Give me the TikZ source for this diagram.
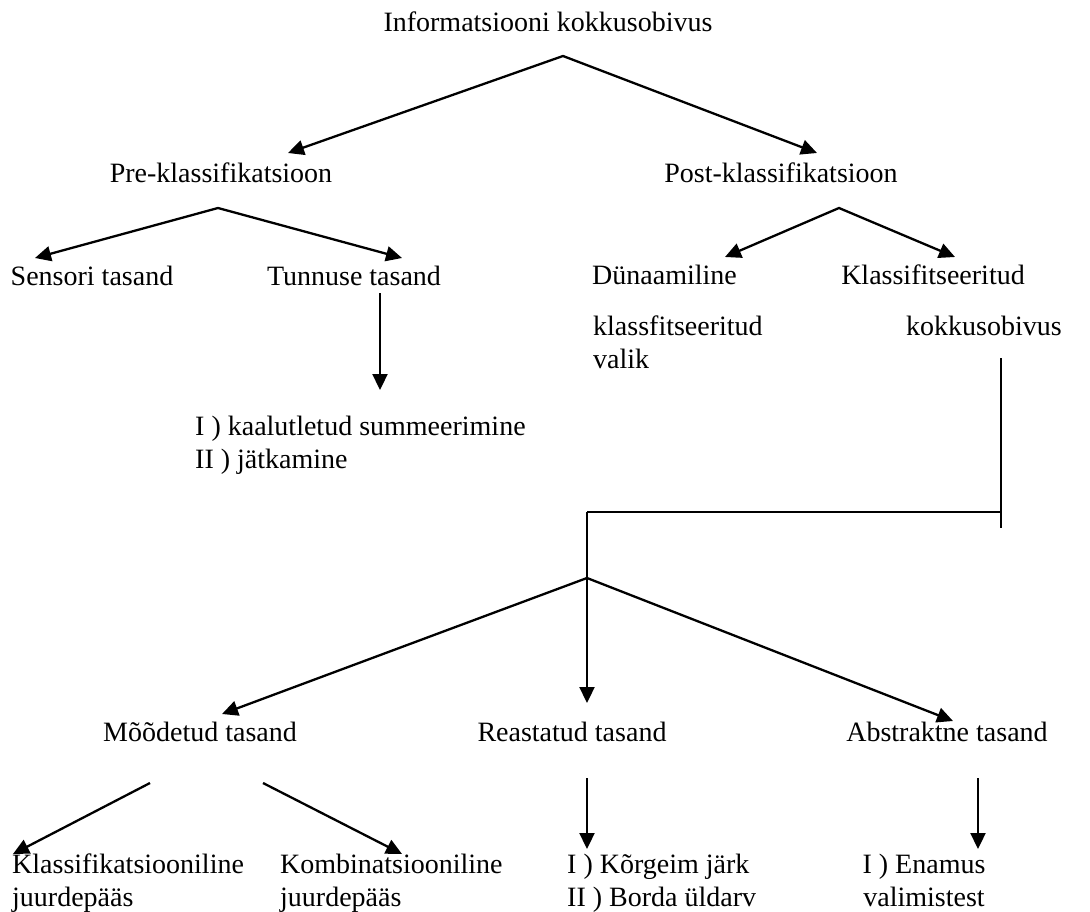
\documentclass[tikz,border=0pt]{standalone}
\usepackage{fontspec}
\setmainfont{Liberation Serif}
\usetikzlibrary{arrows.meta}

\tikzset{
  lbl/.style={inner sep=0pt, font=\fontsize{28}{33}\selectfont},
  arr/.style={-{Triangle[length=16pt,width=15pt]}, line width=2.3pt},
  twoarr/.style={{Triangle[length=16pt,width=15pt]}-{Triangle[length=16pt,width=15pt]}, line width=2.3pt},
  joinline/.style={line width=1.7pt}
}

\begin{document}
\begin{tikzpicture}[x=1pt, y=-1pt]
\useasboundingbox (0,0) rectangle (1090,912);

% labels
\node[lbl, anchor=base] (info) at (548,32) {Informatsiooni kokkusobivus};
\node[lbl, anchor=base] (pre) at (221,183) {Pre-klassifikatsioon};
\node[lbl, anchor=base] (post) at (781,183) {Post-klassifikatsioon};
\node[lbl, anchor=base] (sensori) at (92,285) {Sensori tasand};
\node[lbl, anchor=base] (tunnuse) at (354,285) {Tunnuse tasand};
\node[lbl, anchor=north west, align=left] (summa) at (195,416) {I ) kaalutletud summeerimine\\II ) jätkamine};
\node[lbl, anchor=base west] (dyn) at (592,284) {Dünaamiline};
\node[lbl, anchor=north west, align=left] (dynkl) at (593,316) {klassfitseeritud\\valik};
\node[lbl, anchor=base] (klass) at (933,284) {Klassifitseeritud};
\node[lbl, anchor=base] (kokku) at (984,335) {kokkusobivus};
\node[lbl, anchor=base] (mood) at (200,741) {Mõõdetud tasand};
\node[lbl, anchor=base] (reast) at (572,741) {Reastatud tasand};
\node[lbl, anchor=base] (abstr) at (947,741) {Abstraktne tasand};
\node[lbl, anchor=north west, align=left] (klj) at (12,854) {Klassifikatsiooniline\\juurdepääs};
\node[lbl, anchor=north west, align=left] (kombj) at (280,854) {Kombinatsiooniline\\juurdepääs};
\node[lbl, anchor=north west, align=left] (jark) at (567,854) {I ) Kõrgeim järk\\II ) Borda üldarv};
\node[lbl, anchor=north, align=center] (enamus) at (924,854) {I ) Enamus\\valimistest};

% branch points and arrow ends
\coordinate (info-out) at (563,56);
\coordinate (pre-in) at (288,153);
\coordinate (post-in) at (817,153);
\coordinate (pre-out) at (218,208);
\coordinate (sensori-in) at (35,258);
\coordinate (tunnuse-in) at (402,258);
\coordinate (tunnuse-out) at (380,293);
\coordinate (summa-in) at (380,390);
\coordinate (post-out) at (839,208);
\coordinate (dyn-in) at (725,257);
\coordinate (klass-in) at (955,257);
\coordinate (kokku-out) at (1001,358);
\coordinate (kokku-end) at (1001,528);
\coordinate (corner-r) at (1001,512);
\coordinate (corner-l) at (587,512);
\coordinate (split) at (587,578);
\coordinate (mood-in) at (222,714);
\coordinate (reast-in) at (587,703);
\coordinate (abstr-in) at (953,721);
\coordinate (mood-l) at (150,783);
\coordinate (mood-r) at (263,783);
\coordinate (klj-in) at (13,854);
\coordinate (kombj-in) at (402,854);
\coordinate (reast-out) at (587,778);
\coordinate (jark-in) at (587,849);
\coordinate (abstr-out) at (978,778);
\coordinate (enamus-in) at (978,849);

% connectors
\draw[twoarr] (pre-in) -- (info-out) -- (post-in);
\draw[twoarr] (sensori-in) -- (pre-out) -- (tunnuse-in);
\draw[twoarr] (dyn-in) -- (post-out) -- (klass-in);
\draw[twoarr] (mood-in) -- (split) -- (abstr-in);
\draw[joinline] (kokku-out) -- (kokku-end);
\draw[joinline] (corner-r) -- (corner-l);
\foreach \a/\b in {tunnuse-out/summa-in, corner-l/reast-in, mood-l/klj-in, mood-r/kombj-in, reast-out/jark-in, abstr-out/enamus-in}
\draw[arr] (\a) -- (\b);

\end{tikzpicture}
\end{document}
